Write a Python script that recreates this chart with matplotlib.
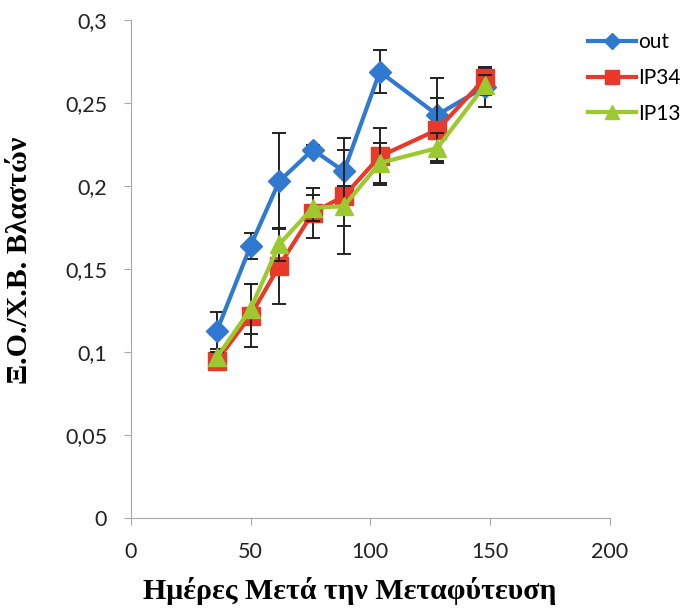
import matplotlib
matplotlib.use("Agg")
import matplotlib.pyplot as plt
from matplotlib.ticker import FuncFormatter, MultipleLocator

# days after transplanting
days = [36, 50, 62, 76, 89, 104, 128, 148]

out = [0.113, 0.164, 0.203, 0.222, 0.209, 0.269, 0.243, 0.260]
out_err = [0.011, 0.008, 0.029, 0.003, 0.013, 0.013, 0.022, 0.012]

ip34 = [0.095, 0.122, 0.152, 0.184, 0.194, 0.218, 0.234, 0.265]
ip34_err = [0.003, 0.019, 0.023, 0.015, 0.035, 0.017, 0.019, 0.006]

ip13 = [0.097, 0.126, 0.165, 0.187, 0.188, 0.214, 0.223, 0.261]
ip13_err = [0.003, 0.015, 0.010, 0.008, 0.012, 0.012, 0.009, 0.006]

fig = plt.figure(figsize=(6.92, 6.14), dpi=100)
ax = fig.add_axes([0.189, 0.156, 0.692, 0.811])

ax.errorbar(days, out, yerr=out_err, color='#2f7ad0', lw=3, marker='D', ms=11,
            ecolor='#222222', elinewidth=1.4, capsize=5, capthick=1.4, label='out', zorder=3)
ax.errorbar(days, ip34, yerr=ip34_err, color='#e8392b', lw=3, marker='s', ms=13,
            ecolor='#222222', elinewidth=1.4, capsize=5, capthick=1.4, label='IP34', zorder=4)
ax.errorbar(days, ip13, yerr=ip13_err, color='#9bc92f', lw=3, marker='^', ms=13,
            ecolor='#222222', elinewidth=1.4, capsize=5, capthick=1.4, label='IP13', zorder=5)

ax.set_xlim(0, 200)
ax.set_ylim(0, 0.3)
ax.xaxis.set_major_locator(MultipleLocator(50))
ax.yaxis.set_major_locator(MultipleLocator(0.05))
ax.yaxis.set_major_formatter(FuncFormatter(lambda v, p: ('%g' % round(v, 2)).replace('.', ',')))

for s in ['top', 'right']:
    ax.spines[s].set_visible(False)
for s in ['left', 'bottom']:
    ax.spines[s].set_color('#a8a8a8')
ax.tick_params(axis='both', direction='out', length=5, color='#a8a8a8', labelsize=15.5,
               labelcolor='#222222')
ax.tick_params(axis='y', pad=12)
ax.tick_params(axis='x', pad=12)
for lab in ax.get_xticklabels() + ax.get_yticklabels():
    lab.set_family('Lato')

ax.set_xlabel('Ημέρες Μετά την Μεταφύτευση', fontsize=21.5, fontweight='bold',
              family='Liberation Serif')
ax.set_ylabel('Ξ.Ο./Χ.Β. Βλαστών', fontsize=21.5, fontweight='bold',
              family='Liberation Serif')
ax.xaxis.set_label_coords(0.457, -0.118)
ax.yaxis.set_label_coords(-0.205, 0.518)

h, l = ax.get_legend_handles_labels()
h = [x[0] for x in h]
leg = fig.legend(h, l, loc='upper left', bbox_to_anchor=(0.823, 0.978), frameon=False,
                 handlelength=2.3, labelspacing=0.75, handletextpad=0.1, markerscale=0.75,
                 prop={'family': 'Lato', 'size': 15})

fig.savefig('out.png', dpi=100)
